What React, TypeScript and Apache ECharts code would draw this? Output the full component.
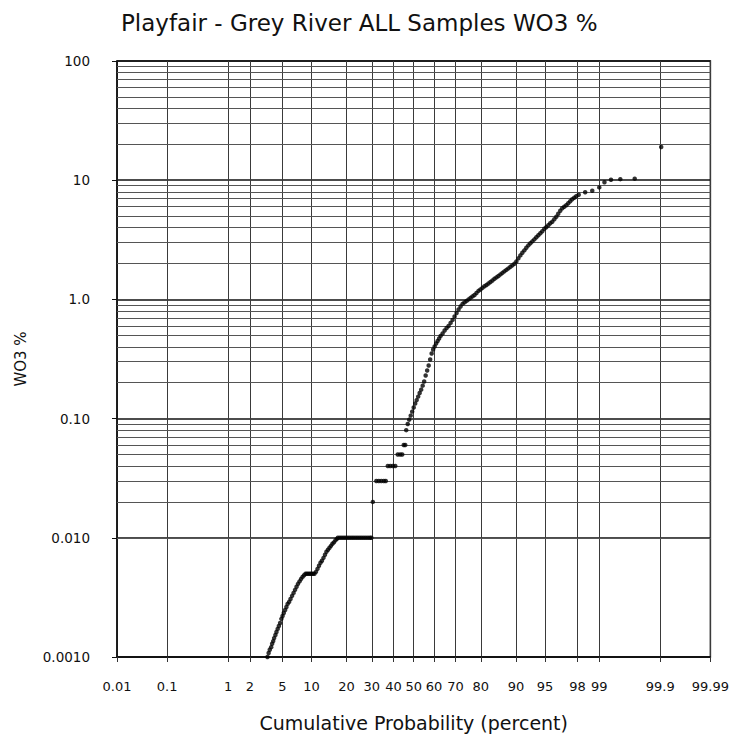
import React, { useEffect, useRef } from "react";
import * as echarts from "echarts";

// ---- Axis definitions ----
const probTicks = [0.01, 0.1, 1, 2, 5, 10, 20, 30, 40, 50, 60, 70, 80, 90, 95, 98, 99, 99.9, 99.99];
const probTickLabels = ["0.01", "0.1", "1", "2", "5", "10", "20", "30", "40", "50", "60", "70", "80", "90", "95", "98", "99", "99.9", "99.99"];
const yDecadeExp = [-3, -2, -1, 0, 1, 2];
const yDecadeLabels = ["0.0010", "0.010", "0.10", "1.0", "10", "100"];
const minorMultipliers = [2, 3, 4, 5, 6, 7, 8, 9];

// ---- Data (cumulative probability %, WO3 %) ----
const cumProb = [
  3.34, 3.45, 3.56, 3.70, 3.80, 3.91, 4.01, 4.15, 4.27, 4.41, 4.55, 4.70, 4.86, 5.01, 5.17, 5.35, 5.53, 5.70, 5.92, 6.13,
  6.37, 6.61, 6.85, 7.10, 7.35, 7.63, 7.90, 8.17, 8.47,
  8.76, 9.06, 9.36, 9.68, 10.0, 10.34, 10.67,
  11.04, 11.40, 11.76, 12.13, 12.51, 12.91, 13.31, 13.70, 14.13, 14.56, 14.99, 15.42, 15.87, 16.34, 16.80,
  17.11, 17.76, 18.41, 19.09, 19.77, 20.48, 21.19, 21.93, 22.66, 23.43, 24.20, 24.99, 25.78, 26.60, 27.43, 28.28, 29.12, 29.78,
  30.42,
  31.96, 33.09, 34.24, 35.39, 36.32,
  37.27, 38.44, 39.65, 40.87,
  42.07, 43.29, 44.28,
  45.03, 45.78,
  46.26, 47.02,
  47.76, 48.51, 49.24, 50.0, 50.75, 51.49, 52.24, 52.98, 53.73, 54.48, 55.22, 55.96, 56.70, 57.44, 58.17, 58.90, 59.63,
  60.35, 61.07, 61.79, 62.50, 63.21, 64.15, 65.08, 66.00, 66.91, 67.81, 68.70, 69.58, 70.45, 71.30, 72.15, 72.98, 73.81,
  74.62, 75.41, 76.19, 76.96, 77.71, 78.44, 79.17, 79.88, 80.57, 81.25, 81.92, 82.57, 83.20, 83.82, 84.43, 85.02, 85.59,
  86.15, 86.70, 87.23, 87.74, 88.24, 88.73, 89.20, 89.66, 90.10, 90.53, 90.94, 91.34, 91.73, 92.10, 92.47, 92.82, 93.15,
  93.48, 93.79, 94.09, 94.38, 94.65, 94.92, 95.17, 95.42, 95.65, 95.88, 96.10, 96.31, 96.50, 96.69, 96.87, 97.04, 97.21,
  97.36, 97.51, 97.65, 97.79, 97.92, 98.07, 98.42, 98.74, 99.00, 99.16, 99.33, 99.52, 99.72, 99.904,
];
const wo3 = [
  0.00100, 0.00108, 0.00115, 0.00121, 0.00129, 0.00136, 0.00144, 0.00153, 0.00162, 0.00172, 0.00182, 0.00193, 0.00209, 0.00221, 0.00234, 0.00248, 0.00263, 0.00279, 0.00290, 0.00307,
  0.00326, 0.00345, 0.00366, 0.00388, 0.00411, 0.00431, 0.00452, 0.00470, 0.00485,
  0.005, 0.005, 0.005, 0.005, 0.005, 0.005, 0.005,
  0.00518, 0.00549, 0.00582, 0.00617, 0.00641, 0.00679, 0.00720, 0.00763, 0.00793, 0.00824, 0.00856, 0.00891, 0.00916, 0.00953, 0.00980,
  0.01, 0.01, 0.01, 0.01, 0.01, 0.01, 0.01, 0.01, 0.01, 0.01, 0.01, 0.01, 0.01, 0.01, 0.01, 0.01, 0.01, 0.01,
  0.02,
  0.03, 0.03, 0.03, 0.03, 0.03,
  0.04, 0.04, 0.04, 0.04,
  0.05, 0.05, 0.05,
  0.06, 0.06,
  0.08, 0.09,
  0.098, 0.106, 0.1145, 0.124, 0.134, 0.143, 0.153, 0.164, 0.175, 0.189, 0.205, 0.230, 0.253, 0.279, 0.313, 0.352, 0.380,
  0.403, 0.427, 0.448, 0.470, 0.494, 0.518, 0.549, 0.576, 0.599, 0.635, 0.673, 0.720, 0.770, 0.824, 0.873, 0.917, 0.944,
  0.971, 1.00, 1.03, 1.06, 1.09, 1.13, 1.18, 1.21, 1.25, 1.29, 1.32, 1.36, 1.40, 1.44, 1.49, 1.53, 1.57,
  1.62, 1.67, 1.72, 1.77, 1.82, 1.88, 1.93, 1.99, 2.08, 2.21, 2.34, 2.46, 2.58, 2.71, 2.84, 2.96, 3.07,
  3.19, 3.32, 3.45, 3.59, 3.73, 3.91, 4.03, 4.19, 4.35, 4.48, 4.70, 4.94, 5.23, 5.54, 5.82, 5.99, 6.17,
  6.41, 6.66, 6.92, 7.13, 7.34, 7.55, 7.93, 8.16, 8.7, 9.6, 10.1, 10.2, 10.3, 19.0,
];

// Inverse standard normal CDF (probability-scale transform)
function probit(p: number): number {
  const a = [-3.969683028665376e1, 2.209460984245205e2, -2.759285104469687e2, 1.38357751867269e2, -3.066479806614716e1, 2.506628277459239];
  const b = [-5.447609879822406e1, 1.615858368580409e2, -1.556989798598866e2, 6.680131188771972e1, -1.328068155288572e1];
  const c = [-7.784894002430293e-3, -3.223964580411365e-1, -2.400758277161838, -2.549732539343734, 4.374664141464968, 2.938163982698783];
  const d = [7.784695709041462e-3, 3.224671290700398e-1, 2.445134137142996, 3.754408661907416];
  const plow = 0.02425;
  if (p < plow) {
    const q = Math.sqrt(-2 * Math.log(p));
    return (((((c[0] * q + c[1]) * q + c[2]) * q + c[3]) * q + c[4]) * q + c[5]) / ((((d[0] * q + d[1]) * q + d[2]) * q + d[3]) * q + 1);
  }
  if (p <= 1 - plow) {
    const q = p - 0.5;
    const r = q * q;
    return ((((((a[0] * r + a[1]) * r + a[2]) * r + a[3]) * r + a[4]) * r + a[5]) * q) / (((((b[0] * r + b[1]) * r + b[2]) * r + b[3]) * r + b[4]) * r + 1);
  }
  return -probit(1 - p);
}

const FONT = "DejaVu Sans";

export default function App() {
  const ref = useRef<HTMLDivElement>(null);
  useEffect(() => {
    if (!ref.current) return;
    const chart = echarts.init(ref.current, undefined, { renderer: "svg" });
    const tickZ = probTicks.map((p) => probit(p / 100));
    const xMin = tickZ[0];
    const xMax = -tickZ[0];
    tickZ[tickZ.length - 1] = xMax;
    const points = cumProb.map((p, i) => [probit(p / 100), wo3[i]]);
    const minorLines: any[] = [];
    yDecadeExp.slice(0, -1).forEach((e) => {
      minorMultipliers.forEach((m) => minorLines.push({ yAxis: m * Math.pow(10, e) }));
    });
    const xLabel = (v: number) => {
      for (let i = 0; i < tickZ.length; i++) if (Math.abs(tickZ[i] - v) < 1e-6) return probTickLabels[i];
      return "";
    };
    chart.setOption({
      animation: false,
      backgroundColor: "#fff",
      title: {
        text: "Playfair - Grey River ALL Samples WO3 %",
        left: 116,
        top: 6,
        textStyle: { fontFamily: FONT, fontSize: 23, fontWeight: "normal", color: "#111" },
      },
      grid: { left: 117, top: 61, width: 596, height: 596, show: true, borderColor: "#111", borderWidth: 1.5, backgroundColor: "transparent" },
      xAxis: {
        type: "value",
        min: xMin,
        max: xMax,
        name: "Cumulative Probability (percent)",
        nameLocation: "middle",
        nameGap: 56,
        nameTextStyle: { fontFamily: FONT, fontSize: 19, color: "#111" },
        axisLine: { show: true, onZero: false, lineStyle: { color: "#111", width: 1.5 } },
        axisTick: { show: true, inside: false, length: 5, customValues: tickZ, lineStyle: { color: "#333" } },
        axisLabel: { customValues: tickZ, formatter: xLabel, margin: 23, fontFamily: FONT, fontSize: 13, color: "#111" },
        splitLine: { show: true, lineStyle: { color: "#3a3a3a", width: 1 } },
      },
      yAxis: {
        type: "log",
        logBase: 10,
        min: 0.001,
        max: 100,
        name: "WO3 %",
        nameLocation: "middle",
        nameGap: 89,
        nameTextStyle: { fontFamily: FONT, fontSize: 15, color: "#111" },
        axisLine: { show: true, onZero: false, lineStyle: { color: "#111", width: 1.5 } },
        axisTick: { show: true, inside: false, length: 5, lineStyle: { color: "#111" } },
        axisLabel: {
          margin: 27,
          fontFamily: FONT,
          fontSize: 13.5,
          color: "#111",
          formatter: (v: number) => {
            const e = Math.round(Math.log10(v));
            const i = yDecadeExp.indexOf(e);
            return i >= 0 ? yDecadeLabels[i] : "";
          },
        },
        splitLine: { show: true, lineStyle: { color: "#111", width: 1.5 } },
      },
      series: [
        {
          type: "scatter",
          data: [],
          z: 1,
          silent: true,
          markLine: {
            silent: true,
            symbol: ["none", "none"],
            label: { show: false },
            lineStyle: { color: "#555", width: 1, type: "solid" },
            data: minorLines,
            animation: false,
          },
        },
        {
          type: "scatter",
          data: points,
          z: 5,
          symbol: "circle",
          symbolSize: 4.5,
          itemStyle: { color: "#000" },
        },
      ],
    });
    return () => chart.dispose();
  }, []);
  return <div ref={ref} style={{ position: "fixed", left: 0, top: 0, width: 732, height: 755 }} />;
}
